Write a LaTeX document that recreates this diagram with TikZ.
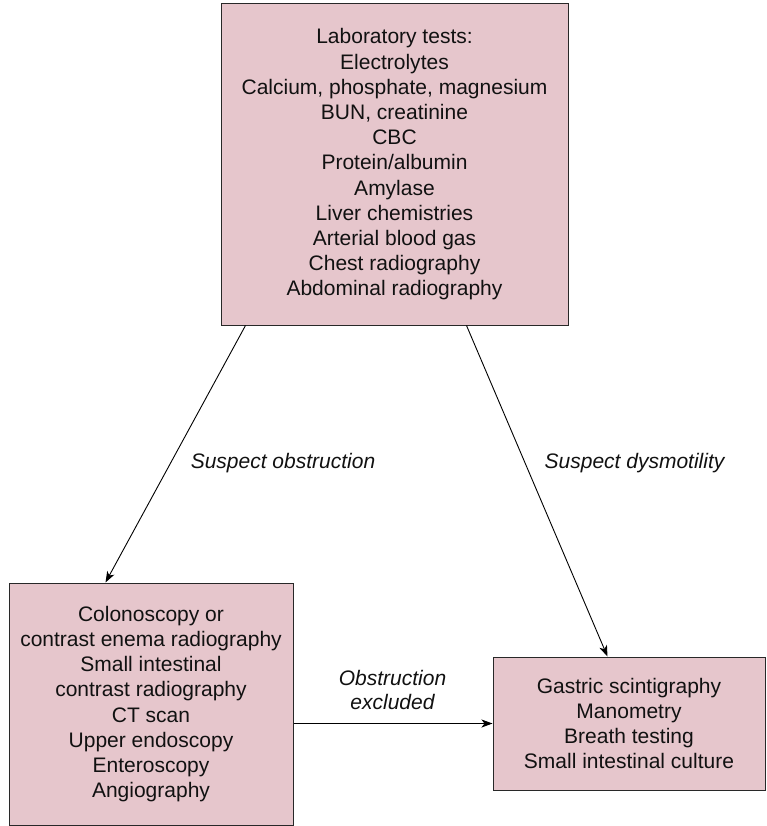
\documentclass[tikz,border=0pt]{standalone}
\usepackage{fontspec}
\setmainfont{Liberation Sans}
\usetikzlibrary{arrows.meta}
\definecolor{boxfill}{RGB}{230,198,204}
\definecolor{boxline}{RGB}{40,40,40}
\definecolor{ink}{RGB}{17,17,17}
\begin{document}
\begin{tikzpicture}[x=1pt,y=-1pt,
  testbox/.style={draw=boxline,fill=boxfill,line width=1pt,rectangle,
    align=center,inner sep=0pt,text=ink,
    font=\fontsize{21}{25.2}\selectfont},
  flow/.style={draw=black,line width=0.9pt,-{Stealth[length=11pt,width=8pt,inset=3pt]}},
  edgelabel/.style={text=ink,align=center,font=\fontsize{21}{24}\selectfont\itshape}]
  \useasboundingbox (0,0) rectangle (766,826);

  % initial work-up
  \node[testbox,minimum width=347pt,minimum height=321pt] (labs) at (394.5,164.5)
    {Laboratory tests:\\Electrolytes\\Calcium, phosphate, magnesium\\BUN, creatinine\\CBC\\Protein/albumin\\Amylase\\Liver chemistries\\Arterial blood gas\\Chest radiography\\Abdominal radiography};

  % obstruction branch
  \node[testbox,minimum width=284pt,minimum height=242pt] (obst) at (151,704)
    {Colonoscopy or\\contrast enema radiography\\Small intestinal\\contrast radiography\\CT scan\\Upper endoscopy\\Enteroscopy\\Angiography};

  % dysmotility branch
  \node[testbox,minimum width=272pt,minimum height=133pt] (dysm) at (629,723.5)
    {Gastric scintigraphy\\Manometry\\Breath testing\\Small intestinal culture};

  % connector end points on the box borders
  \coordinate (labsL) at ([xshift=25pt]labs.south west);
  \coordinate (labsR) at ([xshift=246pt]labs.south west);
  \coordinate (obstT) at ([xshift=97pt]obst.north west);
  \coordinate (dysmT) at ([xshift=115pt]dysm.north west);

  \draw[flow] (labsL) -- (obstT);
  \draw[flow] (labsR) -- (dysmT);
  \draw[flow] (obst.east |- dysm.west) -- (dysm.west);

  \node[edgelabel] (lblObst) at (283,463) {Suspect obstruction};
  \node[edgelabel] (lblDysm) at (634.5,463) {Suspect dysmotility};
  \node[edgelabel] (lblExcl) at (392.5,690) {Obstruction\\excluded};
\end{tikzpicture}
\end{document}
